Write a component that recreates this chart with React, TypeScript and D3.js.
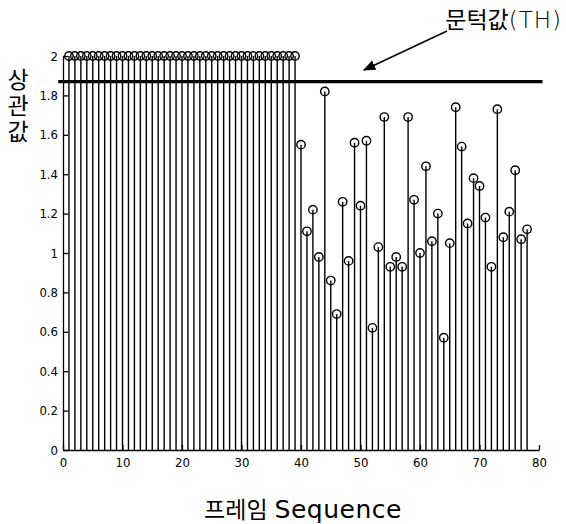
import React, { useEffect, useRef } from "react";
import { select, scaleLinear, axisLeft, axisBottom } from "d3";

// frame index and correlation value per frame
const frames = [
  1, 2, 3, 4, 5, 6, 7, 8, 9, 10, 11, 12, 13, 14, 15, 16, 17, 18, 19, 20,
  21, 22, 23, 24, 25, 26, 27, 28, 29, 30, 31, 32, 33, 34, 35, 36, 37, 38, 39,
  40, 41, 42, 43, 44, 45, 46, 47, 48, 49, 50, 51, 52, 53, 54, 55, 56, 57, 58,
  59, 60, 61, 62, 63, 64, 65, 66, 67, 68, 69, 70, 71, 72, 73, 74, 75, 76, 77, 78
];
const correlation = [
  2, 2, 2, 2, 2, 2, 2, 2, 2, 2, 2, 2, 2, 2, 2, 2, 2, 2, 2, 2,
  2, 2, 2, 2, 2, 2, 2, 2, 2, 2, 2, 2, 2, 2, 2, 2, 2, 2, 2,
  1.55, 1.11, 1.22, 0.98, 1.82, 0.86, 0.69, 1.26, 0.96, 1.56, 1.24, 1.57, 0.62, 1.03, 1.69, 0.93, 0.98, 0.93, 1.69,
  1.27, 1.0, 1.44, 1.06, 1.2, 0.57, 1.05, 1.74, 1.54, 1.15, 1.38, 1.34, 1.18, 0.93, 1.73, 1.08, 1.21, 1.42, 1.07, 1.12
];
const threshold = 1.87;

const xTicks = [0, 10, 20, 30, 40, 50, 60, 70, 80];
const yTicks = [0, 0.2, 0.4, 0.6, 0.8, 1, 1.2, 1.4, 1.6, 1.8, 2];
const yTickLabels = ["0", "0.2", "0.4", "0.6", "0.8", "1", "1.2", "1.4", "1.6", "1.8", "2"];

const yLabel = "상관값";
const xLabelKo = "프레임";
const xLabelEn = "Sequence";
const thLabelKo = "문턱값";
const thLabelEn = "(TH)";

const W = 566;
const H = 524;
const tickFont = "'DejaVu Sans Condensed', 'Liberation Sans Narrow', sans-serif";
const koFont = "'Noto Sans CJK KR', sans-serif";
const enFont = "'DejaVu Sans', sans-serif";

export default function App() {
  const xAxisRef = useRef<SVGGElement>(null);
  const yAxisRef = useRef<SVGGElement>(null);

  const x = scaleLinear().domain([0, 80]).range([63, 539]);
  const y = scaleLinear().domain([0, 2]).range([450, 56]);

  useEffect(() => {
    const yAxis = axisLeft(y)
      .tickValues(yTicks)
      .tickFormat((d, i) => yTickLabels[i])
      .tickSize(-5)
      .tickSizeOuter(0)
      .tickPadding(5);
    const gy = select(yAxisRef.current).call(yAxis as any);
    gy.selectAll("text").attr("font-family", tickFont).attr("font-size", 13).attr("fill", "#000");
    gy.selectAll("line,path").attr("stroke", "#000").attr("stroke-width", 1.3);

    const xAxis = axisBottom(x)
      .tickValues(xTicks)
      .tickSize(-5)
      .tickSizeOuter(0)
      .tickPadding(8);
    const gx = select(xAxisRef.current).call(xAxis as any);
    gx.selectAll("text").attr("font-family", tickFont).attr("font-size", 13).attr("fill", "#000");
    gx.selectAll("line,path").attr("stroke", "#000").attr("stroke-width", 1.3);
  }, []);

  return (
    <svg
      width={W}
      height={H}
      style={{ position: "absolute", left: 0, top: 0, background: "#fff" }}
    >
      <defs>
        <marker id="arrow" viewBox="0 0 10 10" refX="9" refY="5" markerWidth="9" markerHeight="9" orient="auto">
          <path d="M0,1 L10,5 L0,9 Z" fill="#000" />
        </marker>
      </defs>

      {/* stems */}
      <g stroke="#000" strokeWidth={1.4}>
        {frames.map((f, i) => (
          <line key={f} x1={x(f)} x2={x(f)} y1={y(0)} y2={y(correlation[i])} />
        ))}
      </g>
      <g fill="none" stroke="#000" strokeWidth={1.4}>
        {frames.map((f, i) => (
          <circle key={f} cx={x(f)} cy={y(correlation[i])} r={4.2} />
        ))}
      </g>

      <g ref={yAxisRef} transform={`translate(${x(0)},0)`} />
      <g ref={xAxisRef} transform={`translate(0,${y(0)})`} />

      {/* threshold */}
      <line x1={x(-0.8)} x2={x(80.6)} y1={y(threshold)} y2={y(threshold)} stroke="#000" strokeWidth={3.2} />

      {/* annotation */}
      <text x={562} y={28} textAnchor="end" fill="#000">
        <tspan fontFamily={koFont} fontSize={23}>{thLabelKo}</tspan>
        <tspan fontFamily={enFont} fontSize={23} fontWeight={300} letterSpacing={1}>{thLabelEn}</tspan>
      </text>
      <line x1={447} y1={31} x2={364} y2={70} stroke="#000" strokeWidth={1.4} markerEnd="url(#arrow)" />

      {/* axis labels */}
      <text
        x={18}
        y={68}
        fontFamily={koFont}
        fontSize={23}
        letterSpacing={3}
        fill="#000"
        style={{ writingMode: "vertical-rl", textOrientation: "upright" } as any}
      >
        {yLabel}
      </text>
      <text x={303} y={518} textAnchor="middle" fill="#000">
        <tspan fontFamily={koFont} fontSize={23}>{xLabelKo}</tspan>
        <tspan fontFamily={enFont} fontSize={25} dx={7} letterSpacing={0.5}>{xLabelEn}</tspan>
      </text>
    </svg>
  );
}
